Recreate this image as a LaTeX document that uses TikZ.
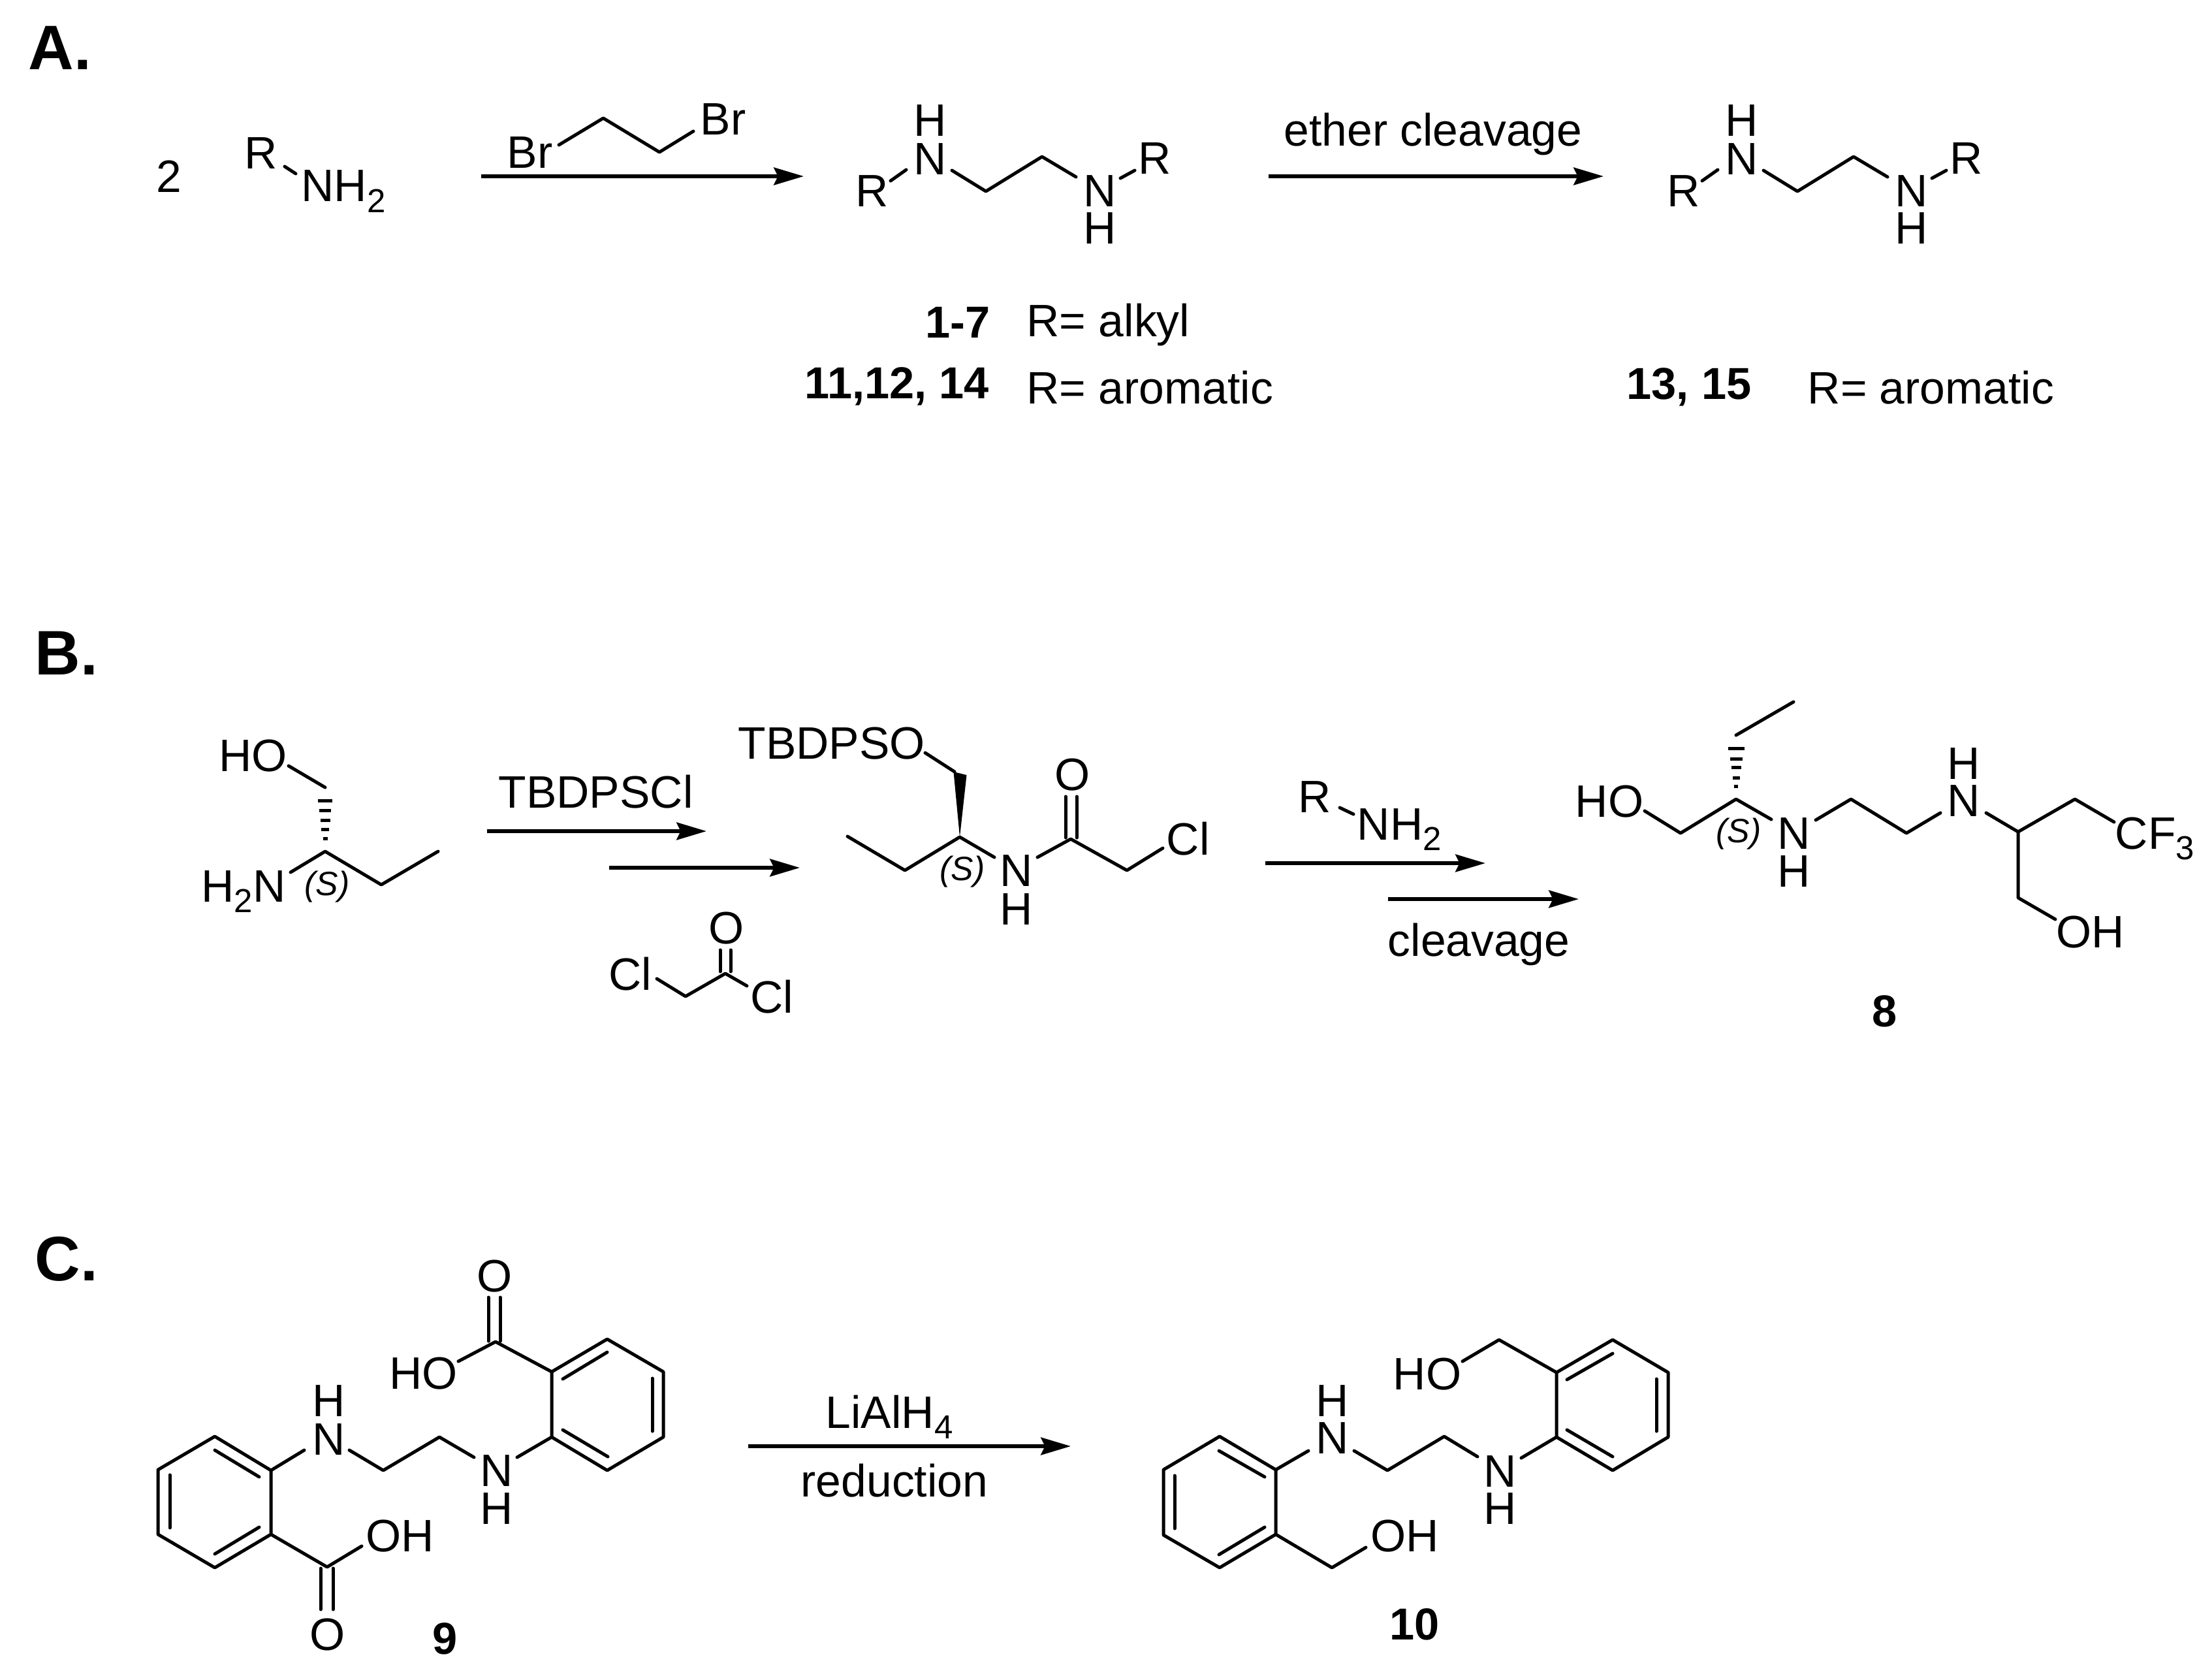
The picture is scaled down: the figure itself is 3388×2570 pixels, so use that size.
\documentclass[tikz,border=0pt]{standalone}
\usepackage{fontspec}
\setmainfont{Liberation Sans}
\usetikzlibrary{arrows.meta}

\newcommand{\subs}[1]{\raisebox{-.23em}{\fontsize{14.5}{14.5}\selectfont #1}}

\begin{document}
\begin{tikzpicture}[x=0.01cm,y=-0.01cm,
    txt/.style={anchor=base west,inner sep=0pt,font=\fontsize{19.8}{19.8}\selectfont},
    cmpd/.style={txt,font=\fontsize{19.5}{19.5}\selectfont\bfseries},
    panel/.style={txt,font=\fontsize{27.4}{27.4}\selectfont\bfseries},
    stereo/.style={txt,font=\fontsize{14.7}{14.7}\selectfont\itshape},
    bond/.style={line width=1.42pt,line cap=round,line join=round},
    hash/.style={line width=1.42pt},
    rxn/.style={line width=1.65pt,-{Stealth[length=13pt,width=7.6pt,inset=1.8pt]}}]
  \useasboundingbox (0,0) rectangle (3388,2570);

  % panel A
  \node[panel] (labA) at (43,107) {A.};
  \node[txt] (two) at (239,295) {2};
  \node[txt] (amR) at (374,259) {R};
  \node[txt] (amN) at (461,309) {NH\subs{2}};
  \draw[bond] (436,255) -- (453,266);

  \coordinate (a1s) at (737,270);
  \coordinate (a1e) at (1231,270);
  \draw[rxn] (a1s) -- (a1e);
  \node[txt] (brL) at (776,258) {Br};
  \node[txt] (brR) at (1072,207) {Br};
  \draw[bond] (856,222) -- (924,181) -- (1010,233) -- (1062,201);

  \coordinate (a2s) at (1943,270);
  \coordinate (a2e) at (2456,270);
  \draw[rxn] (a2s) -- (a2e);
  \node[txt] (ether) at (1966,224) {ether cleavage};

  \foreach \dx/\nm in {0/p,1243/q} {
    \begin{scope}[xshift=\dx*0.01cm]
      \node[txt] (\nm Ra) at (1310,317) {R};
      \node[txt] (\nm Na) at (1399,268) {N};
      \node[txt] (\nm Ha) at (1399,209) {H};
      \node[txt] (\nm Nb) at (1659,317) {N};
      \node[txt] (\nm Hb) at (1659,374) {H};
      \node[txt] (\nm Rb) at (1743,267) {R};
      \draw[bond] (1364,277) -- (1388,260);
      \draw[bond] (1458,261) -- (1510,293) -- (1596,240) -- (1648,271);
      \draw[bond] (1716,273) -- (1738,261);
    \end{scope}
  }

  \node[cmpd] (c17) at (1417,518) {1-7};
  \node[txt] (alkyl) at (1572,515) {R= alkyl};
  \node[cmpd] (c1114) at (1232,610) {11,12, 14};
  \node[txt] (arom) at (1572,618) {R= aromatic};
  \node[cmpd] (c1315) at (2491,611) {13, 15};
  \node[txt] (aromb) at (2768,618) {R= aromatic};

  % panel B
  \node[panel] (labB) at (53,1033) {B.};
  \node[txt] (ho) at (335,1181) {HO};
  \node[txt] (nh) at (308,1381) {H\subs{2}N};
  \node[stereo] (sa) at (466,1371) {(S)};
  \draw[bond] (442,1173) -- (498,1206);
  \draw[bond] (445,1336) -- (498,1304) -- (584,1355) -- (671,1304);
  \foreach \y/\w in {1226/11,1241/9,1256/7.5,1270/6,1284/3.5}
    \draw[hash] ({498-\w},\y) -- ({498+\w},\y);

  \node[txt] (tbs) at (763,1237) {TBDPSCl};
  \coordinate (b1s) at (746,1273);
  \coordinate (b1e) at (1082,1273);
  \draw[rxn] (b1s) -- (b1e);
  \coordinate (b2s) at (933,1329);
  \coordinate (b2e) at (1225,1329);
  \draw[rxn] (b2s) -- (b2e);
  \node[txt] (acO) at (1085,1445) {O};
  \node[txt] (acCa) at (932,1516) {Cl};
  \node[txt] (acCb) at (1149,1551) {Cl};
  \draw[bond] (1006,1499) -- (1050,1526) -- (1111,1491) -- (1144,1510);
  \draw[bond] (1103,1455) -- (1103,1488);
  \draw[bond] (1119,1455) -- (1119,1488);

  \node[txt] (tbo) at (1130,1162) {TBDPSO};
  \node[stereo] (sb) at (1439,1348) {(S)};
  \node[txt] (amdN) at (1531,1357) {N};
  \node[txt] (amdH) at (1531,1416) {H};
  \node[txt] (amdO) at (1615,1210) {O};
  \node[txt] (amdC) at (1786,1309) {Cl};
  \draw[bond] (1417,1153) -- (1462,1182);
  \fill (1470,1282) -- (1460.5,1182) -- (1480.5,1187) -- cycle;
  \draw[bond] (1298,1281) -- (1386,1333) -- (1470,1282) -- (1523,1313);
  \draw[bond] (1589,1313) -- (1640,1285) -- (1726,1333) -- (1781,1299);
  \draw[bond] (1632,1220) -- (1632,1283);
  \draw[bond] (1649,1220) -- (1649,1283);

  \node[txt] (rr) at (1988,1244) {R};
  \node[txt] (rn) at (2078,1286) {NH\subs{2}};
  \draw[bond] (2052,1237) -- (2073,1247);
  \coordinate (b3s) at (1938,1322);
  \coordinate (b3e) at (2275,1322);
  \draw[rxn] (b3s) -- (b3e);
  \coordinate (b4s) at (2126,1377);
  \coordinate (b4e) at (2418,1377);
  \draw[rxn] (b4s) -- (b4e);
  \node[txt] (clv) at (2125,1464) {cleavage};

  \node[txt] (hob) at (2412,1251) {HO};
  \node[stereo] (sc) at (2628,1290) {(S)};
  \node[txt] (nb) at (2722,1300) {N};
  \node[txt] (hb) at (2722,1358) {H};
  \node[txt] (na) at (2982,1250) {N};
  \node[txt] (ha) at (2982,1193) {H};
  \node[txt] (cf) at (3239,1300) {CF\subs{3}};
  \node[txt] (oh) at (3149,1451) {OH};
  \node[cmpd] (c8) at (2867,1572) {8};
  \draw[bond] (2519,1242) -- (2574,1276) -- (2659,1224) -- (2713,1255);
  \foreach \y/\w in {1146/12.5,1162/9.5,1175/7.5,1191/5.5,1204/3}
    \draw[hash] ({2659-\w},\y) -- ({2659+\w},\y);
  \draw[bond] (2659,1126) -- (2747,1075);
  \draw[bond] (2781,1256) -- (2835,1224) -- (2920,1276) -- (2972,1245);
  \draw[bond] (3042,1245) -- (3091,1274) -- (3178,1224) -- (3238,1259);
  \draw[bond] (3091,1274) -- (3091,1375) -- (3148,1408);

  % panel C
  \node[panel] (labC) at (53,1961) {C.};
  \draw[bond] (329,2200) -- (415,2252) -- (415,2350) -- (329,2401) -- (242,2350) -- (242,2251) -- cycle;
  \draw[bond] (329,2221) -- (397,2262);
  \draw[bond] (397,2339) -- (329,2380);
  \draw[bond] (260,2340) -- (260,2259);
  \draw[bond] (415,2350) -- (501,2400) -- (554,2368);
  \draw[bond] (491,2402) -- (491,2465);
  \draw[bond] (510,2402) -- (510,2465);
  \node[txt] (ohc) at (560,2376) {OH};
  \node[txt] (oc) at (474,2527) {O};
  \node[cmpd] (c9) at (662,2533) {9};
  \node[txt] (hc) at (478,2169) {H};
  \node[txt] (nc) at (478,2228) {N};
  \node[txt] (nd) at (735,2276) {N};
  \node[txt] (hd) at (735,2334) {H};
  \draw[bond] (415,2252) -- (466,2221);
  \draw[bond] (535,2221) -- (587,2252) -- (673,2201) -- (726,2232);
  \draw[bond] (792,2232) -- (845,2201);
  \draw[bond] (845,2101) -- (930,2051) -- (1016,2101) -- (1016,2201) -- (930,2252) -- (845,2201) -- cycle;
  \draw[bond] (862,2112) -- (930,2071);
  \draw[bond] (999,2111) -- (999,2192);
  \draw[bond] (931,2231) -- (862,2190);
  \draw[bond] (845,2101) -- (759,2055) -- (702,2085);
  \draw[bond] (748,1987) -- (748,2054);
  \draw[bond] (766,1987) -- (766,2054);
  \node[txt] (hoc) at (596,2127) {HO};
  \node[txt] (od) at (730,1978) {O};

  \coordinate (c1s) at (1146,2215);
  \coordinate (c1e) at (1640,2215);
  \draw[rxn] (c1s) -- (c1e);
  \node[txt] (lah) at (1264,2187) {LiAlH\subs{4}};
  \node[txt] (red) at (1226,2292) {reduction};

  \draw[bond] (1868,2200) -- (1954,2251) -- (1954,2350) -- (1868,2401) -- (1782,2351) -- (1782,2251) -- cycle;
  \draw[bond] (1867,2222) -- (1937,2262);
  \draw[bond] (1937,2339) -- (1867,2381);
  \draw[bond] (1799,2260) -- (1799,2341);
  \draw[bond] (1954,2350) -- (2040,2401) -- (2092,2370);
  \node[txt] (ohd) at (2099,2376) {OH};
  \node[txt] (ne) at (2015,2226) {N};
  \node[txt] (he) at (2015,2169) {H};
  \node[txt] (nf) at (2272,2277) {N};
  \node[txt] (hf) at (2272,2334) {H};
  \draw[bond] (1954,2251) -- (2004,2222);
  \draw[bond] (2074,2222) -- (2125,2252) -- (2212,2200) -- (2263,2231);
  \draw[bond] (2330,2233) -- (2384,2201);
  \draw[bond] (2384,2102) -- (2470,2052) -- (2555,2102) -- (2555,2201) -- (2470,2252) -- (2384,2201) -- cycle;
  \draw[bond] (2400,2113) -- (2470,2073);
  \draw[bond] (2537,2112) -- (2537,2192);
  \draw[bond] (2470,2231) -- (2400,2190);
  \draw[bond] (2384,2102) -- (2296,2052) -- (2240,2085);
  \node[txt] (hod) at (2133,2128) {HO};
  \node[cmpd] (c10) at (2128,2511) {10};
\end{tikzpicture}
\end{document}
